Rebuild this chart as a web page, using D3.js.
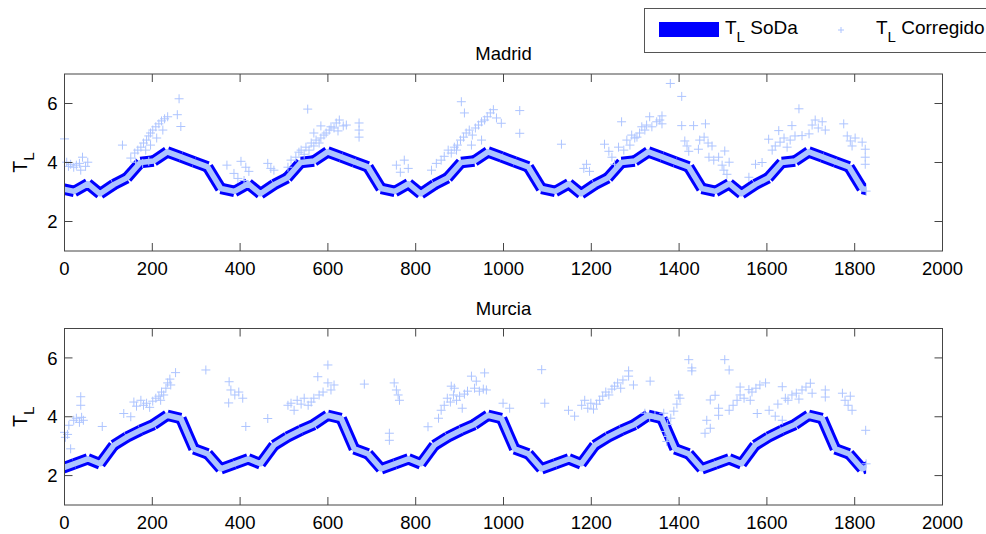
<!DOCTYPE html>
<html>
<head>
<meta charset="utf-8">
<script src="https://cdn.jsdelivr.net/npm/d3@7"></script>
<style>
  html, body { margin: 0; padding: 0; background: #fff; }
  svg { display: block; font-family: "Liberation Sans", Arial, Helvetica, sans-serif; }
</style>
</head>
<body>
<svg id="chart" width="986" height="534"></svg>
<script>
// Monthly Linke turbidity climatology (SoDa), one value per month,
// placed at the month's reference day of year and repeated over the record.
const monthDay = [22, 53, 81, 112, 142, 173, 203, 234, 265, 295, 326, 356];
const sodaMadrid = [3.02, 3.28, 2.94, 3.25, 3.48, 4.00, 4.05, 4.36, 4.19, 4.02, 3.85, 3.12];
const sodaMurcia = [2.40, 2.57, 2.40, 3.03, 3.31, 3.54, 3.74, 4.05, 3.94, 2.91, 2.74, 2.23];
const recordDays = 1826;
const yearLength = 365.25;

// Corrected daily turbidity values that depart from the climatology: [day, T_L]
const corrMadrid = [
  [0,4.80],[5,4.01],[9,3.87],[14,3.94],[21,3.84],[27,3.91],[34,3.97],[41,4.18],[48,3.87],[53,4.01],[37,3.74],
  [132,4.59],[151,4.15],[160,4.32],[167,4.42],[174,4.52],[180,4.66],[187,4.76],[192,4.90],[196,5.00],[201,5.10],
  [208,5.21],[215,5.31],[221,5.41],[228,5.48],[235,5.55],[185,4.42],[196,4.59],[210,4.83],[224,5.10],
  [257,5.62],[261,6.16],[265,5.22],[162,4.01],[178,3.97],[192,4.04],
  [370,3.91],[386,3.63],[395,3.46],[402,4.04],[409,3.39],[413,3.84],[420,3.70],[463,3.97],[470,3.80],[477,3.74],
  [509,3.84],[516,4.08],[527,4.18],[534,4.35],[539,4.42],[546,4.28],[550,4.52],[557,4.42],[562,4.66],[568,4.56],
  [573,4.76],[580,4.66],[584,4.83],[591,4.93],[596,5.00],[603,5.10],[607,5.21],[614,5.17],[619,5.34],[626,5.44],
  [554,5.81],[568,5.00],[584,5.24],[623,5.07],[635,5.24],[671,5.34],[671,5.10],[671,4.86],[642,5.27],
  [756,3.91],[765,3.67],[774,4.08],[783,3.80],
  [836,3.74],[847,3.97],[858,4.08],[865,4.21],[874,4.42],[881,4.32],[888,4.52],[895,4.59],[902,4.76],[909,4.86],
  [915,5.00],[922,5.10],[929,4.93],[936,5.17],[943,5.27],[950,5.38],[957,5.44],[963,5.55],[970,5.68],[977,5.79],
  [984,5.51],[904,6.06],[911,5.68],[893,4.42],[927,4.59],[950,4.76],[995,5.33],[1037,5.76],[1037,4.99],
  [1132,4.62],[1189,3.94],[1196,3.70],[1183,3.80],[1230,4.62],[1240,4.38],[1247,4.18],[1253,3.94],[1262,4.52],
  [1269,5.38],[1274,4.42],[1281,4.76],[1288,4.59],[1292,4.93],[1299,4.83],[1304,4.86],[1310,5.00],[1315,5.21],
  [1322,5.10],[1326,5.27],[1333,5.55],[1338,5.21],[1349,5.38],[1356,5.44],[1361,5.58],[1361,5.31],[1380,6.68],
  [1406,6.24],[1406,5.25],[1433,5.25],[1460,5.31],[1413,4.73],[1422,4.38],[1418,4.56],[1444,4.45],[1447,4.76],
  [1457,4.86],[1466,4.66],[1475,4.56],[1468,4.18],[1479,4.08],[1490,4.18],[1498,3.91],[1502,3.74],[1504,4.39],
  [1509,3.60],[1514,4.01],
  [1559,3.50],[1574,3.94],[1589,4.00],[1604,4.79],[1612,4.42],[1619,4.56],[1627,5.08],[1630,4.69],[1639,4.83],
  [1646,4.52],[1653,4.76],[1657,5.25],[1664,4.90],[1673,5.82],[1680,4.91],[1696,4.97],[1703,5.27],[1710,5.44],
  [1717,5.17],[1726,5.38],[1733,5.10],[1775,5.31],[1783,4.90],[1790,4.73],[1794,4.56],[1801,4.83],[1817,4.69],
  [1824,4.45],[1824,4.18],[1824,3.94],[1826,3.03]
];
const corrMurcia = [
  [0,3.47],[2,3.30],[7,3.40],[10,3.71],[14,2.91],[21,3.88],[27,3.95],[34,3.81],[39,3.98],[43,3.88],[37,4.68],[37,4.39],
  [86,3.67],[135,4.11],[151,4.00],[158,4.50],[164,4.36],[174,4.56],[180,4.39],[187,4.46],[194,4.32],[201,4.53],
  [208,4.63],[215,4.70],[219,4.56],[221,4.84],[226,4.74],[231,4.97],[235,5.15],[240,5.28],[242,5.08],[253,5.50],
  [322,5.59],[375,5.19],[379,4.91],[388,4.74],[397,4.84],[406,4.63],[374,4.47],[413,3.67],[463,3.94],
  [509,4.39],[516,4.46],[523,4.22],[530,4.56],[539,4.43],[546,4.63],[555,4.39],[562,4.50],[568,4.63],[577,5.36],
  [580,4.74],[589,4.84],[600,5.76],[600,5.15],[607,4.91],[614,5.08],
  [683,5.11],[751,5.15],[756,4.91],[760,4.74],[763,4.56],[740,3.44],[740,3.20],[828,3.66],[852,3.95],[858,4.22],
  [865,4.39],[872,4.63],[879,4.50],[881,5.04],[888,4.97],[886,4.74],[893,4.56],[900,4.70],[906,4.29],[911,4.77],
  [918,4.87],[927,5.38],[934,4.97],[938,5.21],[945,4.87],[954,4.94],[961,4.91],[957,5.49],[999,4.46],[1014,4.29],
  [1087,5.60],[1094,4.46],[1148,4.22],[1162,4.02],[1178,4.39],[1185,4.56],[1192,4.29],[1199,4.46],[1205,4.26],
  [1212,4.43],[1219,4.56],[1226,4.70],[1233,4.84],[1240,4.74],[1247,4.94],[1253,5.04],[1260,5.15],[1267,4.97],
  [1272,5.25],[1285,5.56],[1285,5.38],[1296,5.08],[1334,5.21],[1322,4.12],[1333,3.95],[1345,4.05],[1365,4.12],
  [1368,3.50],[1374,3.74],[1381,3.95],[1388,4.19],[1395,4.43],[1402,4.63],[1399,4.74],[1422,5.94],[1429,5.66],
  [1429,5.56],[1372,3.16],[1374,3.33],
  [1471,4.57],[1482,4.73],[1490,4.29],[1490,4.05],[1471,3.61],[1459,3.44],[1463,3.88],[1504,5.94],[1514,5.59],
  [1562,4.56],[1578,4.11],[1605,4.22],[1619,4.02],[1635,3.88],[1514,4.22],[1523,4.39],[1532,4.56],[1539,4.74],
  [1539,5.01],[1548,4.63],[1559,4.92],[1566,4.84],[1575,4.97],[1584,5.08],[1597,5.15],[1625,4.43],[1635,5.02],
  [1642,4.63],[1648,4.56],[1657,4.74],[1667,4.80],[1673,4.60],[1680,4.91],[1689,5.01],[1699,5.14],[1703,4.80],
  [1733,4.91],[1733,4.67],[1772,4.80],[1778,4.56],[1785,4.39],[1794,4.22],[1790,4.70],[1825,3.54],[1826,2.40]
];

const xTicks = [0, 200, 400, 600, 800, 1000, 1200, 1400, 1600, 1800, 2000];
const yTicks = [2, 4, 6];
const xDomain = [0, 2000];
const yDomain = [1, 7];

const panels = [
  { title: "Madrid", soda: sodaMadrid, corr: corrMadrid, top: 74, bottom: 251 },
  { title: "Murcia", soda: sodaMurcia, corr: corrMurcia, top: 328.5, bottom: 505 }
];

const BLUE = "#0000ff";
const LIGHT = "#adc4ff";
const AXIS = "#454545";
const FONT = 18.5;
const left = 64.5, right = 942.5;

const svg = d3.select("#chart");
const x = d3.scaleLinear().domain(xDomain).range([left, right]);

// Expand the monthly climatology into dated vertices covering the record
function climatology(values) {
  const pts = [];
  for (let k = -1; k <= Math.ceil(recordDays / yearLength); k++) {
    monthDay.forEach((d, m) => pts.push([d + k * yearLength, values[m]]));
  }
  return pts;
}

svg.append("defs").append("clipPath").attr("id", "record")
  .append("rect")
  .attr("x", x(0)).attr("y", 0)
  .attr("width", x(recordDays) - x(0)).attr("height", 534);

panels.forEach((p, i) => {
  const y = d3.scaleLinear().domain(yDomain).range([p.bottom, p.top]);
  const g = svg.append("g");

  // frame
  g.append("rect")
    .attr("x", left).attr("y", p.top)
    .attr("width", right - left).attr("height", p.bottom - p.top)
    .attr("fill", "#fff");

  // SoDa climatology: thick segments with butt ends
  const pts = climatology(p.soda);
  const segs = d3.pairs(pts);
  const series = g.append("g").attr("clip-path", "url(#record)");
  series.selectAll("line.soda").data(segs).join("line")
    .attr("class", "soda")
    .attr("x1", d => x(d[0][0])).attr("y1", d => y(d[0][1]))
    .attr("x2", d => x(d[1][0])).attr("y2", d => y(d[1][1]))
    .attr("stroke", BLUE).attr("stroke-width", 11.5)
    .attr("stroke-linecap", "butt");

  // corrected values that coincide with the climatology
  series.append("path")
    .datum(pts)
    .attr("d", d3.line().x(d => x(d[0])).y(d => y(d[1])))
    .attr("fill", "none")
    .attr("stroke", LIGHT).attr("stroke-width", 5.5)
    .attr("stroke-linejoin", "round");

  // corrected values departing from the climatology
  g.append("g").selectAll("path.corr").data(p.corr).join("path")
    .attr("class", "corr")
    .attr("transform", d => `translate(${x(d[0])},${y(d[1])})`)
    .attr("d", "M-4.5,0H4.5M0,-4.5V4.5")
    .attr("stroke", LIGHT).attr("stroke-width", 1)
    .attr("fill", "none");

  // axes with inward ticks on all four sides
  const tick = 8;
  const axes = g.append("g").attr("stroke", AXIS).attr("stroke-width", 1).attr("fill", "none");
  axes.append("rect")
    .attr("x", left).attr("y", p.top)
    .attr("width", right - left).attr("height", p.bottom - p.top);
  xTicks.forEach(t => {
    axes.append("line").attr("x1", x(t)).attr("x2", x(t)).attr("y1", p.bottom).attr("y2", p.bottom - tick);
    axes.append("line").attr("x1", x(t)).attr("x2", x(t)).attr("y1", p.top).attr("y2", p.top + tick);
  });
  yTicks.forEach(t => {
    axes.append("line").attr("x1", left).attr("x2", left + tick).attr("y1", y(t)).attr("y2", y(t));
    axes.append("line").attr("x1", right).attr("x2", right - tick).attr("y1", y(t)).attr("y2", y(t));
  });

  // tick labels
  g.append("g").selectAll("text").data(xTicks).join("text")
    .attr("x", d => x(d)).attr("y", p.bottom + 24)
    .attr("text-anchor", "middle").attr("font-size", FONT).attr("fill", "#000")
    .text(d => d);
  g.append("g").selectAll("text").data(yTicks).join("text")
    .attr("x", left - 7).attr("y", d => y(d)).attr("dy", "0.36em")
    .attr("text-anchor", "end").attr("font-size", FONT).attr("fill", "#000")
    .text(d => d);

  // title
  g.append("text")
    .attr("x", (left + right) / 2).attr("y", p.top - 14)
    .attr("text-anchor", "middle").attr("font-size", FONT).attr("fill", "#000")
    .text(p.title);

  // y label T_L
  const cy = (p.top + p.bottom) / 2;
  const yl = g.append("text")
    .attr("transform", `translate(27,${cy}) rotate(-90)`)
    .attr("text-anchor", "middle").attr("font-size", FONT + 1).attr("fill", "#000");
  yl.append("tspan").text("T");
  yl.append("tspan").attr("dy", 7).attr("font-size", FONT - 3).text("L");
});

// legend
const lg = svg.append("g");
lg.append("rect")
  .attr("x", 644.5).attr("y", 8.5).attr("width", 350).attr("height", 44)
  .attr("fill", "#fff").attr("stroke", "#555").attr("stroke-width", 1);
lg.append("rect")
  .attr("x", 659).attr("y", 22).attr("width", 60).attr("height", 15)
  .attr("fill", BLUE);
const t1 = lg.append("text").attr("x", 725).attr("y", 34).attr("font-size", 19).attr("fill", "#000");
t1.append("tspan").text("T");
t1.append("tspan").attr("dy", 8).attr("font-size", 15).text("L");
t1.append("tspan").attr("dy", -8).text(" SoDa");
lg.append("path")
  .attr("transform", "translate(841,30)")
  .attr("d", "M-3,0H3M0,-3V3")
  .attr("stroke", LIGHT).attr("stroke-width", 1).attr("fill", "none");
const t2 = lg.append("text").attr("x", 876).attr("y", 34).attr("font-size", 19).attr("fill", "#000");
t2.append("tspan").text("T");
t2.append("tspan").attr("dy", 8).attr("font-size", 15).text("L");
t2.append("tspan").attr("dy", -8).text(" Corregido");
</script>
</body>
</html>
